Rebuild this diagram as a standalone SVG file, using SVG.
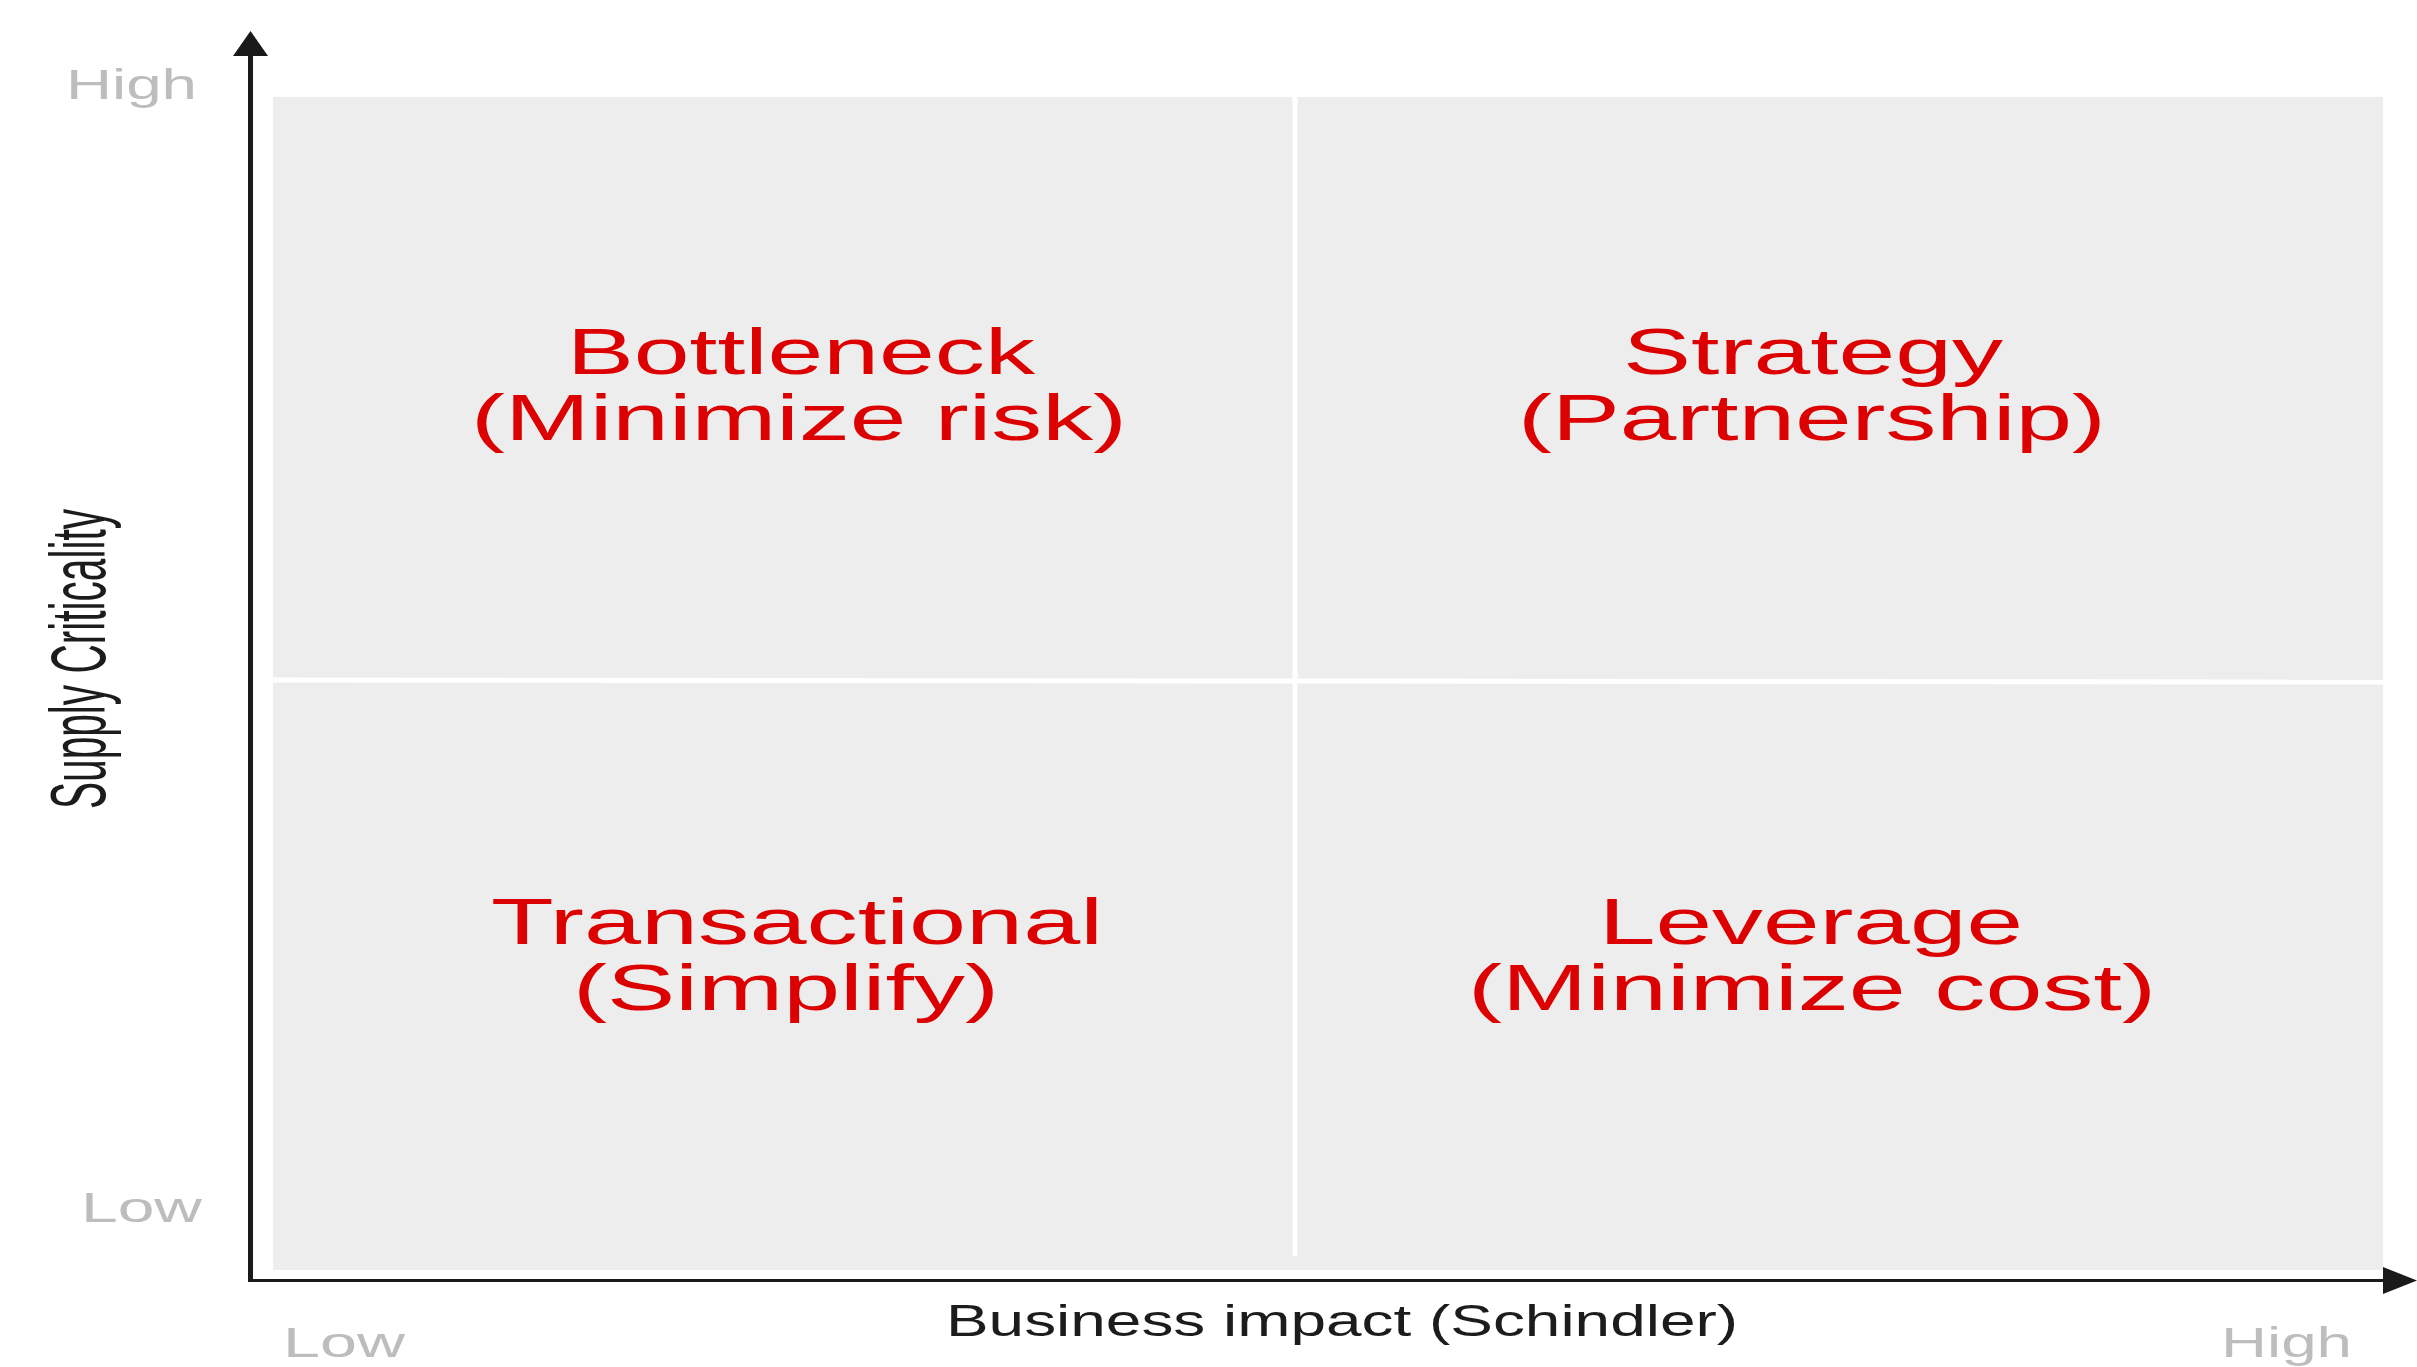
<svg xmlns="http://www.w3.org/2000/svg" width="2417" height="1367" viewBox="0 0 2417 1367">
  <style>
    .quad { font-family: "Liberation Sans", Arial, sans-serif; font-size: 65px; fill: #dc0000; text-anchor: middle; }
    .tick { font-family: "Liberation Sans", Arial, sans-serif; font-size: 43px; fill: #bdbdbd; }
    .axis-title { font-family: "Liberation Sans", Arial, sans-serif; fill: #1c1c1c; text-anchor: middle; }
    .axis { stroke: #1a1a1a; fill: none; }
    .arrowhead { fill: #1a1a1a; }
    .divider { stroke: #ffffff; stroke-width: 5; fill: none; }
  </style>

  <rect width="2417" height="1367" fill="#ffffff"/>

  <!-- matrix background and quadrant dividers -->
  <g id="matrix">
    <rect x="273" y="97" width="2110" height="1173" fill="#ededed"/>
    <line class="divider" x1="1295" y1="97" x2="1295" y2="1256"/>
    <line class="divider" x1="273" y1="680" x2="2383" y2="682"/>
  </g>

  <!-- quadrants -->
  <g id="bottleneck">
    <text class="quad" x="801" y="374" textLength="468" lengthAdjust="spacingAndGlyphs">Bottleneck</text>
    <text class="quad" x="799" y="440" textLength="656" lengthAdjust="spacingAndGlyphs">(Minimize risk)</text>
  </g>
  <g id="strategy">
    <text class="quad" x="1813" y="374" textLength="380" lengthAdjust="spacingAndGlyphs">Strategy</text>
    <text class="quad" x="1812" y="440" textLength="588" lengthAdjust="spacingAndGlyphs">(Partnership)</text>
  </g>
  <g id="transactional">
    <text class="quad" x="797" y="944" textLength="612" lengthAdjust="spacingAndGlyphs">Transactional</text>
    <text class="quad" x="786" y="1010" textLength="426" lengthAdjust="spacingAndGlyphs">(Simplify)</text>
  </g>
  <g id="leverage">
    <text class="quad" x="1811" y="944" textLength="424" lengthAdjust="spacingAndGlyphs">Leverage</text>
    <text class="quad" x="1812" y="1010" textLength="688" lengthAdjust="spacingAndGlyphs">(Minimize cost)</text>
  </g>

  <!-- axes -->
  <g id="axes">
    <line class="axis" x1="250.5" y1="1282" x2="250.5" y2="54" stroke-width="5"/>
    <path class="arrowhead" d="M233,56 L250.5,31 L268,56 Z"/>
    <line class="axis" x1="248" y1="1280.5" x2="2384" y2="1280.5" stroke-width="3"/>
    <path class="arrowhead" d="M2383,1267 L2417,1280.5 L2383,1294 Z"/>
  </g>

  <!-- axis labels -->
  <g id="labels">
    <text class="tick" x="66" y="99" textLength="131" lengthAdjust="spacingAndGlyphs">High</text>
    <text class="tick" x="81" y="1222" textLength="121" lengthAdjust="spacingAndGlyphs">Low</text>
    <text class="tick" x="283" y="1357" textLength="122" lengthAdjust="spacingAndGlyphs">Low</text>
    <text class="tick" x="2221" y="1357" textLength="131" lengthAdjust="spacingAndGlyphs">High</text>
    <text class="axis-title" x="1342" y="1336" font-size="45" textLength="792" lengthAdjust="spacingAndGlyphs">Business impact (Schindler)</text>
    <text class="axis-title" transform="translate(105,659) rotate(-90)" x="0" y="0" font-size="78" textLength="300" lengthAdjust="spacingAndGlyphs">Supply Criticality</text>
  </g>
</svg>
